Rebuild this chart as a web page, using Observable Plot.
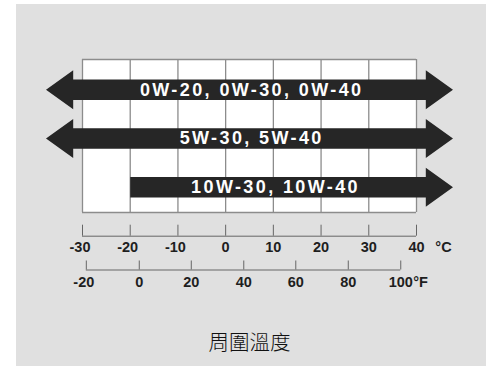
<!DOCTYPE html>
<html>
<head>
<meta charset="utf-8">
<script src="https://cdn.jsdelivr.net/npm/d3@7"></script>
<script src="https://cdn.jsdelivr.net/npm/@observablehq/plot@0.6"></script>
<style>
  html, body { margin: 0; padding: 0; background: #ffffff; }
  #wrap { position: relative; width: 486px; height: 366px; overflow: hidden; }
  #panel { position: absolute; left: 16px; top: 4px; right: 0; bottom: 0; background: #e0e0e0; }
  #chart { position: absolute; left: 0; top: 0; }
</style>
</head>
<body>
<div id="wrap"><div id="panel"></div><div id="chart"></div></div>
<script>
// ---- data ----
const grades = ["0W-20, 0W-30, 0W-40", "5W-30, 5W-40", "10W-30, 10W-40"];
const minTempC = [null, null, -20];   // null = no lower limit (arrowhead)
const maxTempC = [null, null, null];  // null = no upper limit (arrowhead)
const celsiusTicks = [-30, -20, -10, 0, 10, 20, 30, 40];
const fahrenheitTicks = [-20, 0, 20, 40, 60, 80, 100];
const fahrenheitTickAtC = [-29.2, -18.1, -7.2, 3.8, 14.7, 25.7, 36.7]; // positions
const celsiusUnit = "°C";
const fahrenheitUnit = "°F";
const axisTitle = "周圍溫度";

// ---- layout (style) ----
const xDomain = [d3.min(celsiusTicks), d3.max(celsiusTicks)];
const rowTop = 89.3, rowStep = 48.7;
const py = p => (p - rowTop) / rowStep;          // pixel layout -> row units
const headOverhang = 1.95, headLength = 5.7;      // in °C
const shaftHalf = 10.3 / rowStep, headHalf = 19.5 / rowStep;
const gridTop = py(59), gridBottom = py(212);
const font = "'Liberation Sans', Arial, Helvetica, sans-serif";
const ink = "#1e1e1e";

const rows = grades.map((g, i) => {
  const lo = minTempC[i], hi = maxTempC[i];
  const left = lo == null ? xDomain[0] : Math.max(lo, xDomain[0]);
  const right = hi == null ? xDomain[1] : Math.min(hi, xDomain[1]);
  return {row: i, grade: g, lo, hi, mid: (left + right) / 2};
});

// arrow outline points
const arrowPts = [];
for (const r of rows) {
  const y = r.row;
  const xl = r.lo == null ? xDomain[0] - headOverhang : r.lo;
  const xr = r.hi == null ? xDomain[1] + headOverhang : r.hi;
  const pts = [];
  pts.push([xl, y - shaftHalf], [xr, y - shaftHalf]);
  if (r.hi == null) pts.push([xr, y - headHalf], [xr + headLength, y], [xr, y + headHalf]);
  pts.push([xr, y + shaftHalf], [xl, y + shaftHalf]);
  if (r.lo == null) pts.push([xl, y + headHalf], [xl - headLength, y], [xl, y - headHalf]);
  for (const [x, yy] of pts) arrowPts.push({row: r.row, x, y: yy});
}

const fTicks = fahrenheitTicks.map((f, i) => ({f, c: fahrenheitTickAtC[i]}));
const cells = celsiusTicks;

const plot = Plot.plot({
  width: 486,
  height: 366,
  margin: 0,
  style: {background: "transparent", overflow: "visible"},
  x: {domain: xDomain, range: [82, 416], axis: null},
  y: {domain: [0, 2], range: [rowTop, rowTop + 2 * rowStep], axis: null},
  marks: [
    // grid
    Plot.rect([0], {x1: xDomain[0], x2: xDomain[1], y1: gridTop, y2: gridBottom, fill: "#ffffff"}),
    Plot.ruleX(cells, {x: d => d, y1: gridTop, y2: gridBottom, stroke: "#8c8c8c", strokeWidth: 1.3}),
    Plot.ruleY([gridTop, gridBottom], {y: d => d, x1: xDomain[0], x2: xDomain[1], stroke: "#8c8c8c", strokeWidth: 1.3}),
    // arrows
    Plot.line(arrowPts, {x: "x", y: "y", z: "row", fill: "#262626", stroke: "none", curve: "linear-closed"}),
    Plot.text(rows, {x: "mid", y: "row", text: "grade", fill: "#fefefe", fontSize: 18, fontWeight: "bold",
      fontFamily: font, dx: 1}),
    // Celsius axis
    Plot.ruleY([py(235.7)], {y: d => d, x1: xDomain[0], x2: xDomain[1], stroke: "#666", strokeWidth: 1}),
    Plot.ruleX(celsiusTicks, {x: d => d, y1: py(224.7), y2: py(235.7), stroke: "#666", strokeWidth: 1}),
    Plot.text(celsiusTicks.filter(d => d >= 0), {x: d => d, y: py(246.7), text: d => String(d), fontSize: 14.5, fontWeight: "bold", fontFamily: font, fill: ink}),
    Plot.text(celsiusTicks.filter(d => d < 0), {x: d => d, y: py(246.7), text: d => String(d), fontSize: 14.5, fontWeight: "bold", fontFamily: font, fill: ink, dx: -2.5}),
    Plot.text([celsiusUnit], {x: xDomain[1], y: py(246.7), text: d => d, dx: 27, fontSize: 14.5, fontWeight: "bold", fontFamily: font, fill: ink}),
    // Fahrenheit axis
    Plot.ruleY([py(269.5)], {y: d => d, x1: d3.min(fahrenheitTickAtC), x2: d3.max(fahrenheitTickAtC), stroke: "#666", strokeWidth: 1}),
    Plot.ruleX(fTicks, {x: "c", y1: py(260.5), y2: py(269.5), stroke: "#666", strokeWidth: 1}),
    Plot.text(fTicks.filter(d => d.f >= 0), {x: "c", y: py(282), text: d => String(d.f), fontSize: 14.5, fontWeight: "bold", fontFamily: font, fill: ink}),
    Plot.text(fTicks.filter(d => d.f < 0), {x: "c", y: py(282), text: d => String(d.f), fontSize: 14.5, fontWeight: "bold", fontFamily: font, fill: ink, dx: -2.5}),
    Plot.text([fahrenheitUnit], {x: d3.max(fahrenheitTickAtC), y: py(282), text: d => d, dx: 12.5, textAnchor: "start", fontSize: 14.5, fontWeight: "bold", fontFamily: font, fill: ink}),
    // title
    Plot.text([axisTitle], {x: d3.mean(xDomain), y: py(343), text: d => d, fontSize: 20.5, fontWeight: 300,
      fontFamily: "'Noto Sans CJK TC', 'Noto Sans CJK SC', sans-serif", fill: "#111"})
  ]
});

// widen the letter spacing of the white grade labels (centred text: shift by half the extra trailing space)
d3.select(plot).selectAll('g[fill="#fefefe"]')
  .style("letter-spacing", "2.4px")
  .attr("transform", function () {
    const t = this.getAttribute("transform") || "";
    return t + " translate(1.2,0)";
  });
document.getElementById("chart").appendChild(plot);
</script>
</body>
</html>
